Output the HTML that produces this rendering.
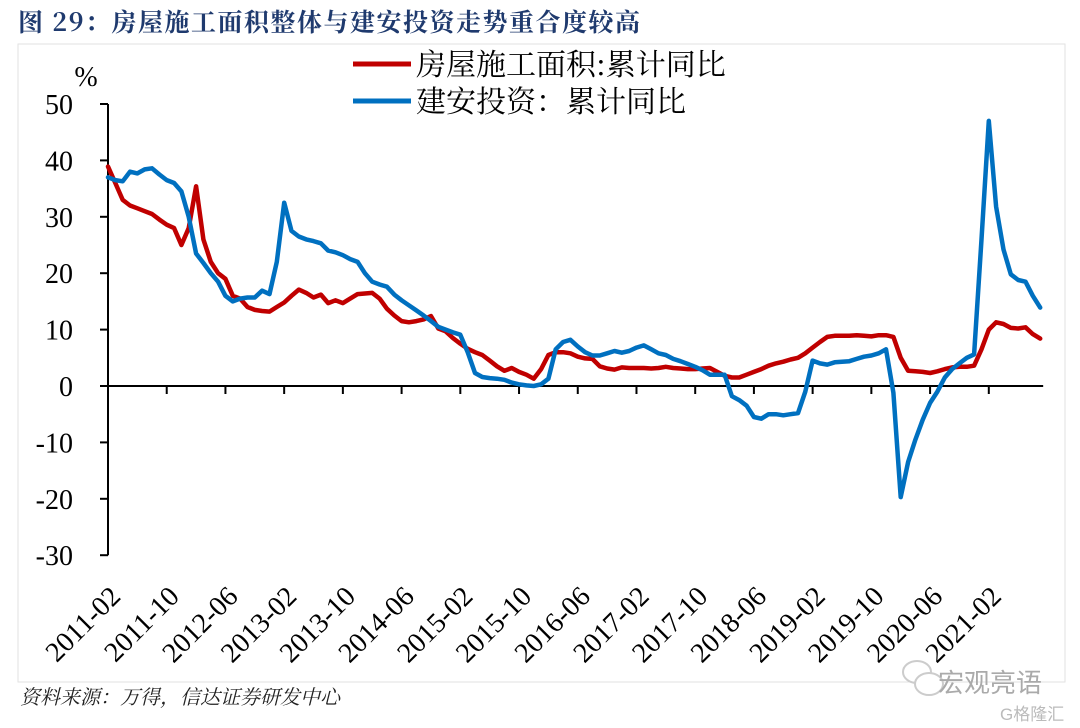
<!DOCTYPE html>
<html><head><meta charset="utf-8">
<style>
html,body{margin:0;padding:0;background:#fff;}
svg{display:block;}
.tk{font-family:"Liberation Serif","Noto Serif CJK SC",serif;font-size:28px;fill:#000;}
</style></head>
<body>
<svg id="chart" width="1080" height="728" viewBox="0 0 1080 728" xmlns="http://www.w3.org/2000/svg">
  <text x="18" y="31" font-family="'Noto Serif CJK SC',serif" font-size="25" font-weight="bold" fill="#1f3a6e" letter-spacing="1.5">图 29：房屋施工面积整体与建安投资走势重合度较高</text>
  <rect x="18" y="44" width="1047" height="638" fill="none" stroke="#e2e2e2" stroke-width="1"/>
  <g>
    <line x1="353" y1="64" x2="411" y2="64" stroke="#c00000" stroke-width="5"/>
    <text x="416" y="75" font-family="'Noto Serif CJK SC',serif" font-size="30">房屋施工面积:累计同比</text>
    <line x1="353" y1="101" x2="411" y2="101" stroke="#0070c0" stroke-width="5"/>
    <text x="416" y="112" font-family="'Noto Serif CJK SC',serif" font-size="30">建安投资：累计同比</text>
  </g>
  <text x="86" y="86" text-anchor="middle" class="tk">%</text>
  <g id="axes"></g>
  <g id="series"></g>
  <text x="20" y="704" font-family="'Noto Serif CJK SC',serif" font-size="20" font-style="italic" fill="#222">资料来源：万得，信达证券研发中心</text>
  <g fill="#bbb" font-family="'Liberation Sans','Noto Sans CJK SC',sans-serif">
    <ellipse cx="917" cy="672" rx="14" ry="11" fill="none" stroke="#ccc" stroke-width="2"/>
    <ellipse cx="929" cy="684" rx="14" ry="11" fill="#fff" stroke="#ccc" stroke-width="2"/>
    <text x="938" y="692" font-size="26" fill="#aaa">宏观亮语</text>
    <text x="1000" y="720" font-size="17" fill="#bbb">G格隆汇</text>
  </g>
</svg>
<script>
const months = [];
(function(){let y=2011,m=2;for(let i=0;i<128;i++){months.push(y+'-'+String(m).padStart(2,'0'));m++;if(m>12){m=1;y++;}}})();
const yTicks = [50,40,30,20,10,0,-10,-20,-30];
const xTickLabels = ["2011-02","2011-10","2012-06","2013-02","2013-10","2014-06","2015-02","2015-10","2016-06","2017-02","2017-10","2018-06","2019-02","2019-10","2020-06","2021-02"];
const housingArea = [38.9,36,33,32,31.5,31,30.5,29.5,28.6,28,25,28,35.4,26,22,20,19,16,15.5,14,13.5,13.3,13.2,14,14.8,16,17.1,16.5,15.7,16.2,14.7,15.2,14.7,15.5,16.3,16.4,16.5,15.5,13.7,12.5,11.5,11.3,11.5,11.8,12.4,10.2,9.7,8.5,7.5,6.6,6,5.5,4.5,3.5,2.7,3.2,2.5,2,1.3,3,5.5,6,6,5.8,5.2,4.9,4.8,3.5,3.1,2.9,3.3,3.2,3.2,3.2,3.1,3.2,3.4,3.2,3.1,3,3,3.1,3.2,2.5,1.8,1.5,1.5,2,2.5,3,3.6,4,4.3,4.7,5,5.8,6.8,7.8,8.7,8.9,8.9,8.9,9,8.9,8.8,9,9,8.7,5,2.7,2.6,2.5,2.3,2.6,3,3.3,3.4,3.4,3.6,6.5,10,11.3,11,10.3,10.2,10.4,9.2,8.4];
const constructionInv = [37,36.5,36.3,38,37.7,38.4,38.6,37.5,36.5,36,34.5,30,23.5,21.8,20,18.5,16,15,15.5,15.7,15.7,16.9,16.3,22,32.5,27.5,26.5,26,25.7,25.3,24,23.7,23.2,22.5,22,20,18.5,18,17.6,16.2,15.2,14.3,13.4,12.5,11.5,10.5,10,9.5,9.1,6,2.3,1.6,1.4,1.3,1.1,0.6,0.3,0.1,0,0.3,1.3,6.5,7.8,8.2,7,6,5.4,5.4,5.8,6.2,5.9,6.2,6.8,7.2,6.5,5.8,5.5,4.8,4.4,3.9,3.4,2.8,2,2,2,-1.8,-2.5,-3.5,-5.5,-5.8,-5,-5,-5.2,-5,-4.8,-1,4.5,4,3.8,4.2,4.3,4.4,4.8,5.2,5.4,5.8,6.5,-1.2,-19.7,-13.5,-9.5,-6,-3,-1,1.5,3,4,5,5.6,26,47,31.8,24.2,19.8,18.8,18.5,16,13.9];

const NS='http://www.w3.org/2000/svg';
const X0=108, DX=7.34, Y50=104, YS=5.64;
function xPos(i){return X0+i*DX;}
function yPos(v){return Y50+(50-v)*YS;}
function mk(tag,attrs,parent){const e=document.createElementNS(NS,tag);for(const k in attrs)e.setAttribute(k,attrs[k]);parent.appendChild(e);return e;}
const axes=document.getElementById('axes');
const yAxis=mk('line',{x1:X0,y1:yPos(50),x2:X0,y2:yPos(-30),stroke:'#000','stroke-width':2},axes);


yTicks.forEach(v=>{
  const t=mk('line',{x1:X0-8,y1:yPos(v),x2:X0,y2:yPos(v),stroke:'#000','stroke-width':2},axes);
  
  
  const l=mk('text',{x:73,y:yPos(v)+10,'text-anchor':'end','class':'tk'},axes);
  l.textContent=String(v);
  
  
});
const xAxis=mk('line',{x1:X0,y1:yPos(0),x2:xPos(127)+3,y2:yPos(0),stroke:'#000','stroke-width':2},axes);


xTickLabels.forEach(lab=>{
  const i=months.indexOf(lab);
  const x=xPos(i);
  const t=mk('line',{x1:x,y1:yPos(0),x2:x,y2:yPos(0)+8,stroke:'#000','stroke-width':2},axes);
  
  
  const l=mk('text',{x:x+14,y:598,'text-anchor':'end','class':'tk',transform:'rotate(-45 '+(x+14)+' 598)'},axes);
  l.textContent=lab;
  
  
});
const series=document.getElementById('series');
function drawLine(vals,color){
  let d='';vals.forEach((v,i)=>{d+=(i?'L':'M')+xPos(i).toFixed(1)+','+yPos(v).toFixed(1);});
  return mk('path',{d:d,fill:'none',stroke:color,'stroke-width':4.5,'stroke-linejoin':'round','stroke-linecap':'round'},series);
}
const p1=drawLine(housingArea,'#c00000');


const p2=drawLine(constructionInv,'#0070c0');


</script>
</body></html>
